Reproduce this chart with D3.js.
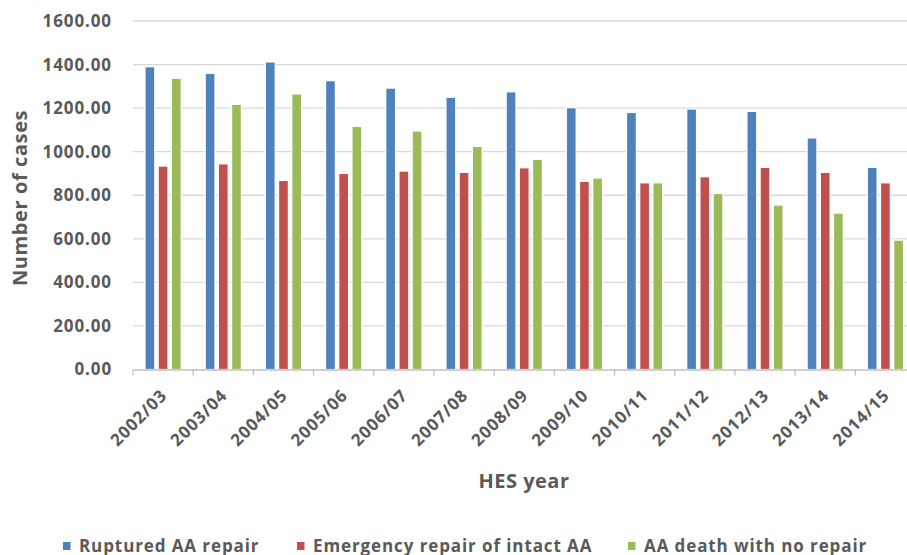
<!DOCTYPE html>
<html>
<head>
<meta charset="utf-8">
<script src="https://cdn.jsdelivr.net/npm/d3@7"></script>
<style>
  html, body { margin: 0; padding: 0; background: #fff; }
  svg { display: block; }
  text { font-family: "Open Sans", "Liberation Sans", sans-serif; font-weight: 700; fill: #595959; }
</style>
</head>
<body>
<svg id="chart" width="907" height="555"></svg>
<script>
const categories = ["2002/03","2003/04","2004/05","2005/06","2006/07","2007/08","2008/09","2009/10","2010/11","2011/12","2012/13","2013/14","2014/15"];
const seriesNames = ["Ruptured AA repair","Emergency repair of intact AA","AA death with no repair"];
const rupturedRepair = [1390,1360,1412,1326,1292,1250,1275,1202,1180,1196,1185,1063,928];
const emergencyIntact = [934,944,868,900,911,905,926,864,857,885,928,905,857];
const deathNoRepair = [1337,1217,1265,1116,1095,1024,965,879,857,808,755,718,594];
const yTicks = [0,200,400,600,800,1000,1200,1400,1600];
const colors = ["#4F81BD","#C0504D","#9BBB59"];

const seriesValues = [rupturedRepair, emergencyIntact, deathNoRepair];

const svg = d3.select("#chart");
svg.append("rect").attr("width",907).attr("height",555).attr("fill","#fff");

const plotLeft = 133, plotRight = 915.5, plotTop = 21, plotBottom = 369.5;

const x0 = d3.scaleBand().domain(categories).range([plotLeft, plotRight]).paddingInner(0).paddingOuter(0);
const x1 = d3.scaleBand().domain(d3.range(3)).range([0, x0.bandwidth()]).paddingInner(0.2576).paddingOuter(0.909);
const y = d3.scaleLinear().domain([0,1600]).range([plotBottom, plotTop]);

// gridlines
svg.append("g").selectAll("line").data(yTicks.filter(d => d > 0)).join("line")
  .attr("x1", plotLeft).attr("x2", plotRight)
  .attr("y1", d => y(d)).attr("y2", d => y(d))
  .attr("stroke", "#d9d9d9").attr("stroke-width", 1.3);

// y tick labels
svg.append("g").selectAll("text").data(yTicks).join("text")
  .attr("x", 112).attr("y", d => y(d)).attr("dy", "0.35em")
  .attr("text-anchor", "end")
  .style("font-size", "17px").style("letter-spacing", "0.9px")
  .text(d => d3.format(".2f")(d));

// bars
const groups = svg.append("g").selectAll("g").data(categories).join("g")
  .attr("transform", c => `translate(${x0(c)},0)`);
groups.selectAll("rect").data((c, i) => seriesValues.map((s, k) => ({k, v: s[i]}))).join("rect")
  .attr("x", d => x1(d.k)).attr("width", x1.bandwidth())
  .attr("y", d => y(d.v)).attr("height", d => y(0) - y(d.v))
  .attr("fill", d => colors[d.k])
  .attr("stroke", "#fff").attr("stroke-width", 1.2);

// x axis baseline and ticks
const xAxis = d3.axisBottom(x0).tickSize(0).tickFormat("");
const gx = svg.append("g").attr("transform", `translate(0,${plotBottom})`).call(xAxis);
gx.select(".domain").attr("stroke", "#bfbfbf").attr("stroke-width", 1.3);
svg.append("g").selectAll("line").data(categories).join("line")
  .attr("x1", c => x0(c)).attr("x2", c => x0(c))
  .attr("y1", plotBottom).attr("y2", plotBottom + 6)
  .attr("stroke", "#bfbfbf").attr("stroke-width", 1.3);

// x tick labels rotated
svg.append("g").selectAll("text").data(categories).join("text")
  .attr("transform", c => `translate(${x0(c) + x0.bandwidth()/2 + 5},${plotBottom + 27}) rotate(-45)`)
  .attr("text-anchor", "end")
  .style("font-size", "17px").style("letter-spacing", "0.9px")
  .text(c => c);

// axis titles
svg.append("text").attr("x", 524).attr("y", 488)
  .attr("text-anchor", "middle").style("font-size", "20px").style("letter-spacing", "0.5px")
  .text("HES year");
svg.append("text").attr("transform", "translate(27,198) rotate(-90)")
  .attr("text-anchor", "middle").style("font-size", "20px").style("letter-spacing", "0.6px")
  .text("Number of cases");

// legend
const legendX = [63, 297, 628];
const lg = svg.append("g").selectAll("g").data(seriesNames).join("g")
  .attr("transform", (d, i) => `translate(${legendX[i]},0)`);
lg.append("rect").attr("x", 0).attr("y", 542).attr("width", 7.5).attr("height", 8)
  .attr("fill", (d, i) => colors[i]);
lg.append("text").attr("x", 16).attr("y", 551.5)
  .style("font-size", "17px").style("letter-spacing", "0.9px")
  .text(d => d);
</script>
</body>
</html>
